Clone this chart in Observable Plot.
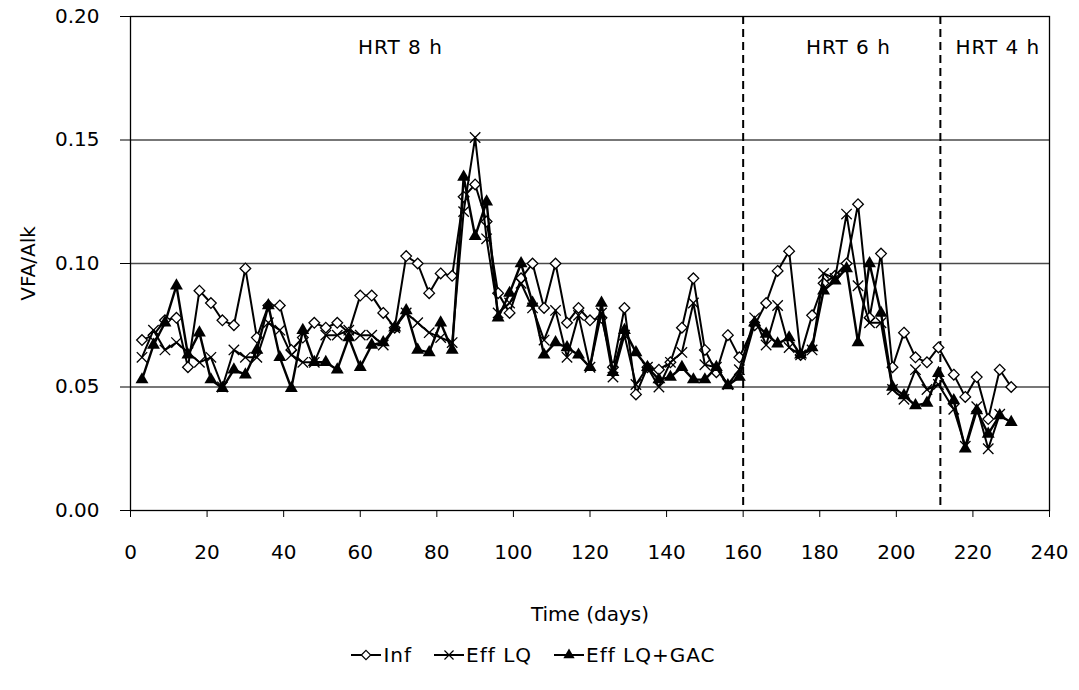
<!DOCTYPE html>
<html>
<head>
<meta charset="utf-8">
<script src="https://cdn.jsdelivr.net/npm/d3@7"></script>
<script src="https://cdn.jsdelivr.net/npm/@observablehq/plot@0.6"></script>
<style>
  body { margin: 0; background: white; font-family: "DejaVu Sans", sans-serif; }
  #legend { display: flex; justify-content: center; align-items: center; gap: 22px; font-size: 20px; letter-spacing: 1px; color: black; width: 1079px; margin-top: 13px; padding-right: 12px; box-sizing: border-box; }
  .item { display: flex; align-items: center; }
  .item svg { margin-right: 2px; }
  .lbl { letter-spacing: 1px; }
</style>
</head>
<body>
<div id="chart"></div>
<div id="legend"></div>
<script>
const days = [3,6,9,12,15,18,21,24,27,30,33,36,39,42,45,48,51,54,57,60,63,66,69,72,75,78,81,84,87,90,93,96,99,102,105,108,111,114,117,120,123,126,129,132,135,138,141,144,147,150,153,156,159,163,166,169,172,175,178,181,184,187,190,193,196,199,202,205,208,211,215,218,221,224,227,230];

const inf = [0.069,0.071,0.077,0.078,0.058,0.089,0.084,0.077,0.075,0.098,0.070,0.083,0.083,0.065,0.070,0.076,0.074,0.076,0.072,0.087,0.087,0.080,0.074,0.103,0.100,0.088,0.096,0.095,0.127,0.132,0.117,0.088,0.080,0.094,0.100,0.082,0.100,0.076,0.082,0.077,0.078,0.058,0.082,0.047,0.058,0.057,0.060,0.074,0.094,0.065,0.056,0.071,0.062,0.075,0.084,0.097,0.105,0.063,0.079,0.092,0.095,0.100,0.124,0.078,0.104,0.058,0.072,0.062,0.060,0.066,0.055,0.046,0.054,0.037,0.057,0.050];

const effLQ = [0.062,0.073,0.065,0.068,0.064,0.060,0.062,0.050,0.065,0.062,0.062,0.076,0.073,0.063,0.060,0.060,0.071,0.071,0.073,0.071,0.071,0.067,0.074,0.080,0.076,0.072,0.070,0.068,0.121,0.151,0.110,0.080,0.084,0.092,0.082,0.069,0.081,0.062,0.079,0.058,0.080,0.054,0.071,0.051,0.058,0.050,0.060,0.064,0.084,0.059,0.058,0.051,0.057,0.078,0.067,0.083,0.066,0.063,0.065,0.096,0.094,0.120,0.091,0.076,0.076,0.049,0.045,0.057,0.049,0.051,0.041,0.026,0.042,0.025,0.039,null];

const effGAC = [0.053,0.067,0.076,0.091,0.063,0.072,0.053,0.0495,0.057,0.055,0.065,0.083,0.062,0.0495,0.073,0.060,0.060,0.057,0.070,0.058,0.067,0.068,0.074,0.081,0.065,0.064,0.076,0.065,0.135,0.111,0.125,0.078,0.088,0.100,0.084,0.063,0.068,0.066,0.063,0.058,0.084,0.056,0.073,0.064,0.058,0.053,0.054,0.058,0.053,0.053,0.058,0.0506,0.054,0.076,0.0715,0.0675,0.070,0.063,0.066,0.089,0.093,0.098,0.068,0.100,0.080,0.050,0.0466,0.0425,0.0435,0.0556,0.0445,0.025,0.0405,0.031,0.0385,0.0357];

const seriesNames = ["Inf", "Eff LQ", "Eff LQ+GAC"];
const xTicks = [0,20,40,60,80,100,120,140,160,180,200,220,240];
const yTicks = [0,0.05,0.10,0.15,0.20];
const boundaries = [160, 211.5];
const hrtLabels = ["HRT 8 h", "HRT 6 h", "HRT 4 h"];
const hrtDays = [70.5, 187.5, 226.5];
const hrtY = [0.1875, 0.1875, 0.1875];

const toRows = (vals) => days.map((d, i) => ({day: d, v: vals[i]})).filter(r => r.v != null);
const rInf = toRows(inf), rLQ = toRows(effLQ), rGAC = toRows(effGAC);
const hrt = hrtLabels.map((t, i) => ({t, x: hrtDays[i], y: hrtY[i]}));

const chart = Plot.plot({
  width: 1079,
  height: 630,
  marginLeft: 130,
  marginRight: 30,
  marginTop: 16,
  marginBottom: 120,
  style: {fontFamily: "DejaVu Sans", fontSize: "20px", color: "black", background: "white"},
  x: {domain: [0, 240]},
  y: {domain: [0, 0.2]},
  marks: [
    Plot.gridY(yTicks.slice(1, 4), {stroke: "#4a4a4a", strokeOpacity: 1, strokeWidth: 1.3}),
    Plot.frame({stroke: "black", strokeWidth: 1.3}),
    Plot.axisY(yTicks, {tickSize: 10, tickPadding: 21, tickFormat: d3.format(".2f"), label: null}),
    Plot.axisY({label: "VFA/Alk", ticks: [], tickSize: 0, labelAnchor: "center", labelOffset: 110, labelArrow: "none", style: {letterSpacing: "1px"}}),
    Plot.axisX(xTicks, {tickSize: 7, tickPadding: 27, label: null}),
    Plot.axisX({label: "Time (days)", ticks: [], tickSize: 0, labelAnchor: "center", labelOffset: 110, labelArrow: "none", style: {letterSpacing: "1px"}}),
    Plot.ruleX(boundaries, {stroke: "black", strokeWidth: 2, strokeDasharray: "8,5"}),
    Plot.text(hrt, {x: "x", y: "y", text: "t", fontSize: 20, className: "lbl"}),
    Plot.line(rInf, {x: "day", y: "v", stroke: "black", strokeWidth: 2}),
    Plot.dot(rInf, {x: "day", y: "v", symbol: "diamond2", r: 4.8, stroke: "black", fill: "white", strokeWidth: 1.3}),
    Plot.line(rLQ, {x: "day", y: "v", stroke: "black", strokeWidth: 2}),
    Plot.dot(rLQ, {x: "day", y: "v", symbol: "times", r: 4.8, stroke: "black", strokeWidth: 1.3}),
    Plot.line(rGAC, {x: "day", y: "v", stroke: "black", strokeWidth: 2.4}),
    Plot.dot(rGAC, {x: "day", y: "v", symbol: "triangle", r: 4.8, fill: "black"})
  ]
});
document.getElementById("chart").appendChild(chart);

// legend
const legend = document.getElementById("legend");
const symbols = ["diamond2", "times", "triangle"];
seriesNames.forEach((name, i) => {
  const item = document.createElement("div");
  item.className = "item";
  const ns = "http://www.w3.org/2000/svg";
  const svg = document.createElementNS(ns, "svg");
  svg.setAttribute("width", 30); svg.setAttribute("height", 20);
  const line = document.createElementNS(ns, "line");
  line.setAttribute("x1", 0); line.setAttribute("x2", 30); line.setAttribute("y1", 10); line.setAttribute("y2", 10);
  line.setAttribute("stroke", "black"); line.setAttribute("stroke-width", 2);
  svg.appendChild(line);
  const sym = {diamond2: d3.symbolDiamond2, times: d3.symbolTimes, triangle: d3.symbolTriangle}[symbols[i]];
  const path = document.createElementNS(ns, "path");
  path.setAttribute("d", d3.symbol(sym, Math.PI * 4.2 * 4.2)());
  path.setAttribute("transform", "translate(15,10)");
  if (symbols[i] === "diamond2") { path.setAttribute("fill", "white"); path.setAttribute("stroke", "black"); path.setAttribute("stroke-width", 1.2); }
  else if (symbols[i] === "times") { path.setAttribute("fill", "none"); path.setAttribute("stroke", "black"); path.setAttribute("stroke-width", 1.2); }
  else { path.setAttribute("fill", "black"); }
  svg.appendChild(path);
  item.appendChild(svg);
  const span = document.createElement("span");
  span.textContent = name;
  item.appendChild(span);
  legend.appendChild(item);
});
</script>
</body>
</html>
